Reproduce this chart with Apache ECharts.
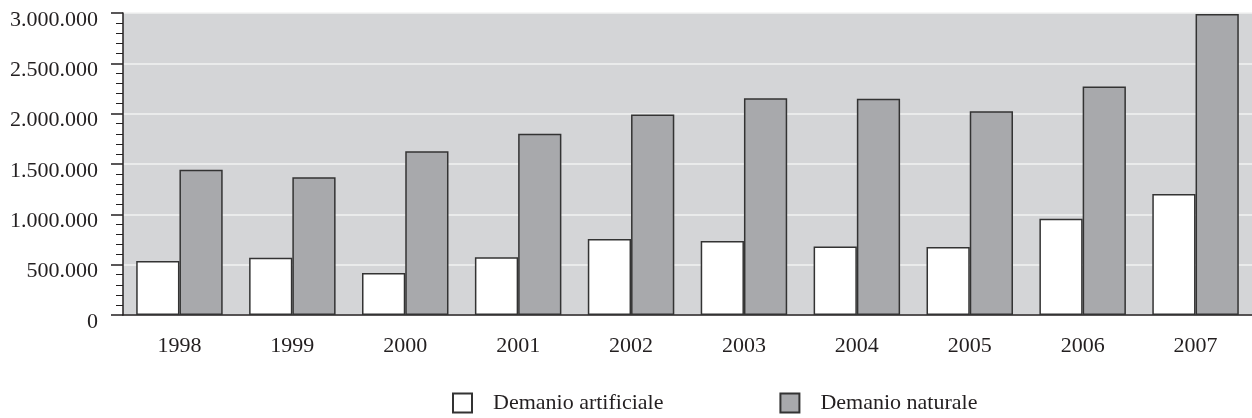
<!DOCTYPE html>
<html>
<head>
<meta charset="utf-8">
<script src="https://cdn.jsdelivr.net/npm/echarts@6/dist/echarts.min.js"></script>
<style>
  html, body { margin: 0; padding: 0; background: #fff; }
  #chart { width: 1252px; height: 418px; }
</style>
</head>
<body>
<div id="chart"></div>
<script>
// anni
const years = ['1998', '1999', '2000', '2001', '2002', '2003', '2004', '2005', '2006', '2007']
// valori
const artificiale = [537000, 569000, 418000, 574000, 754000, 735000, 681000, 675000, 955000, 1203000]
const naturale = [1444000, 1368000, 1626000, 1800000, 1992000, 2153000, 2147000, 2025000, 2269000, 2990000]
// etichette asse y (passo 500.000)
const yTickLabels = ['0', '500.000', '1.000.000', '1.500.000', '2.000.000', '2.500.000', '3.000.000']

const font = 'Liberation Serif'
const ink = '#231f20'

const chart = echarts.init(document.getElementById('chart'))

const option = {
  animation: false,
  textStyle: { fontFamily: font, color: ink },
  grid: {
    left: 123,
    top: 13,
    width: 1133,
    height: 302,
    show: true,
    backgroundColor: '#d4d5d7',
    borderWidth: 0
  },
  legend: {
    left: 452,
    top: 392,
    padding: 0,
    itemWidth: 19,
    itemHeight: 19,
    itemGap: 116,
    textStyle: { fontFamily: font, fontSize: 22, color: ink, padding: [0, 0, 0, 16] },
    data: [
      { name: 'Demanio artificiale', icon: 'rect' },
      { name: 'Demanio naturale', icon: 'rect' }
    ]
  },
  xAxis: {
    type: 'category',
    data: years,
    axisLine: { lineStyle: { color: ink, width: 1.5 } },
    axisTick: { show: false },
    axisLabel: { fontFamily: font, fontSize: 22, color: ink, margin: 20 }
  },
  yAxis: {
    type: 'value',
    min: 0,
    max: 3000000,
    interval: 500000,
    axisLine: { show: true, lineStyle: { color: ink, width: 1.5 } },
    axisTick: { show: true, length: 12, lineStyle: { color: ink, width: 1.5 } },
    minorTick: { show: true, splitNumber: 5, length: 7, lineStyle: { color: ink, width: 1 } },
    splitLine: { show: true, lineStyle: { color: '#f2f2f2', width: 1.5 } },
    axisLabel: {
      fontFamily: font,
      fontSize: 22,
      color: ink,
      margin: 25,
      verticalAlign: 'top',
      lineHeight: 14,
      formatter: v => yTickLabels[Math.round(v / 500000)]
    }
  },
  series: [
    {
      name: 'Demanio artificiale',
      type: 'bar',
      data: artificiale,
      barWidth: '38.3%',
      barGap: '0%',
      itemStyle: { color: '#ffffff', borderColor: '#333', borderWidth: 1.5 }
    },
    {
      name: 'Demanio naturale',
      type: 'bar',
      data: naturale,
      barWidth: '38.3%',
      barGap: '0%',
      itemStyle: { color: '#a8a9ac', borderColor: '#333', borderWidth: 1.5 }
    }
  ]
}

chart.setOption(option)
</script>
</body>
</html>
